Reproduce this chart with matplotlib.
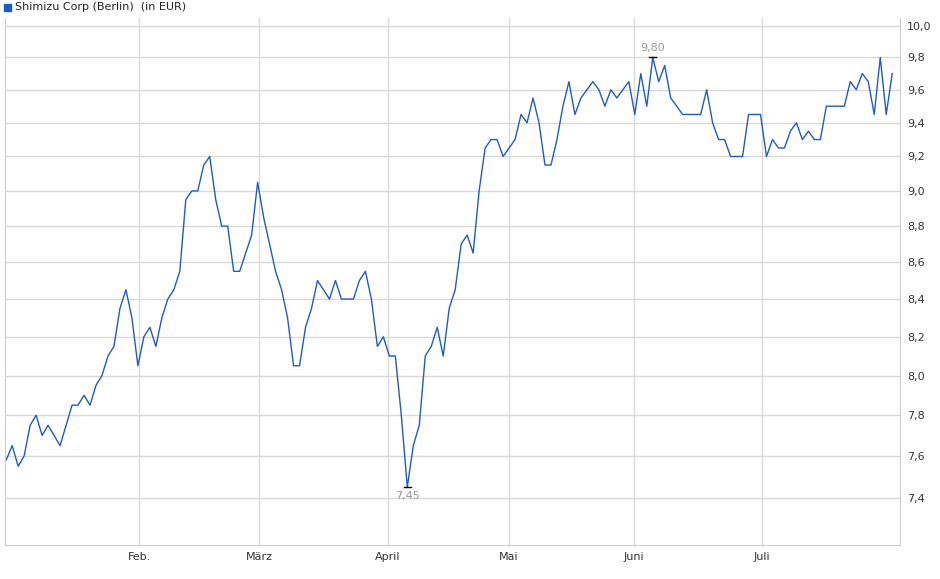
import matplotlib
matplotlib.use('Agg')
import matplotlib.pyplot as plt
from matplotlib.ticker import FixedLocator, NullLocator
import numpy as np

# Closing prices (EUR), one per trading day
prices = [7.58, 7.65, 7.55, 7.6, 7.75, 7.8, 7.7, 7.75, 7.7, 7.65,
          7.75, 7.85, 7.85, 7.9, 7.85, 7.95, 8.0, 8.1, 8.15, 8.35,
          8.45, 8.3, 8.05, 8.2, 8.25, 8.15, 8.3, 8.4, 8.45, 8.55,
          8.95, 9.0, 9.0, 9.15, 9.2, 8.95, 8.8, 8.8, 8.55, 8.55,
          8.65, 8.75, 9.05, 8.85, 8.7, 8.55, 8.45, 8.3, 8.05, 8.05,
          8.25, 8.35, 8.5, 8.45, 8.4, 8.5, 8.4, 8.4, 8.4, 8.5,
          8.55, 8.4, 8.15, 8.2, 8.1, 8.1, 7.8, 7.45, 7.65, 7.75,
          8.1, 8.15, 8.25, 8.1, 8.35, 8.45, 8.7, 8.75, 8.65, 9.0,
          9.25, 9.3, 9.3, 9.2, 9.25, 9.3, 9.45, 9.4, 9.55, 9.4,
          9.15, 9.15, 9.3, 9.5, 9.65, 9.45, 9.55, 9.6, 9.65, 9.6,
          9.5, 9.6, 9.55, 9.6, 9.65, 9.45, 9.7, 9.5, 9.8, 9.65,
          9.75, 9.55, 9.5, 9.45, 9.45, 9.45, 9.45, 9.6, 9.4, 9.3,
          9.3, 9.2, 9.2, 9.2, 9.45, 9.45, 9.45, 9.2, 9.3, 9.25,
          9.25, 9.35, 9.4, 9.3, 9.35, 9.3, 9.3, 9.5, 9.5, 9.5,
          9.5, 9.65, 9.6, 9.7, 9.65, 9.45, 9.8, 9.45, 9.7]

month_labels = ['Feb.', 'März', 'April', 'Mai', 'Juni', 'Juli']
month_pos = [22.2, 42.3, 63.7, 84.0, 104.8, 126.2]
y_ticks = [7.4, 7.6, 7.8, 8.0, 8.2, 8.4, 8.6, 8.8, 9.0, 9.2, 9.4, 9.6, 9.8, 10.0]

fig = plt.figure(figsize=(9.4, 5.79), dpi=100)
ax = fig.add_axes([5/940, 1 - 545/579, 895/940, (545 - 18)/579])

x = np.arange(len(prices))
ax.plot(x, prices, color='#1f5bc4', linewidth=1.0)

ax.set_yscale('log')
ax.set_ylim(7.18, 10.05)
ax.set_xlim(-0.2, 149.3)
ax.yaxis.set_major_locator(FixedLocator(y_ticks))
ax.yaxis.set_minor_locator(NullLocator())
ax.set_yticklabels([f'{v:.1f}'.replace('.', ',') for v in y_ticks])
ax.yaxis.tick_right()
ax.set_xticks(month_pos)
ax.set_xticklabels(month_labels)
ax.tick_params(labelsize=8, length=0, colors='#333333', pad=5)
ax.grid(color='#d9d9d9', linewidth=1)
for s in ax.spines.values():
    s.set_color('#cccccc')
ax.spines['top'].set_visible(False)

# max / min markers
imax = int(np.argmax(prices))
imin = int(np.argmin(prices))
for i, va, off in [(imax, 'bottom', 3), (imin, 'top', -3)]:
    ax.plot([i - 0.6, i + 0.6], [prices[i]] * 2, color='black', linewidth=1)
    ax.annotate(f'{prices[i]:.2f}'.replace('.', ','), (i, prices[i]),
                xytext=(0, off), textcoords='offset points',
                ha='center', va=va, fontsize=8, color='#999999')

# title legend
fig.patches.append(plt.Rectangle((4/940, 1 - 11/579), 7/940, 7/579,
                                 transform=fig.transFigure, color='#1f5bc4'))
fig.text(15/940, 1 - 7/579, 'Shimizu Corp (Berlin)  (in EUR)',
         fontsize=8, va='center', color='#222222')

fig.savefig('out.png', dpi=100)
